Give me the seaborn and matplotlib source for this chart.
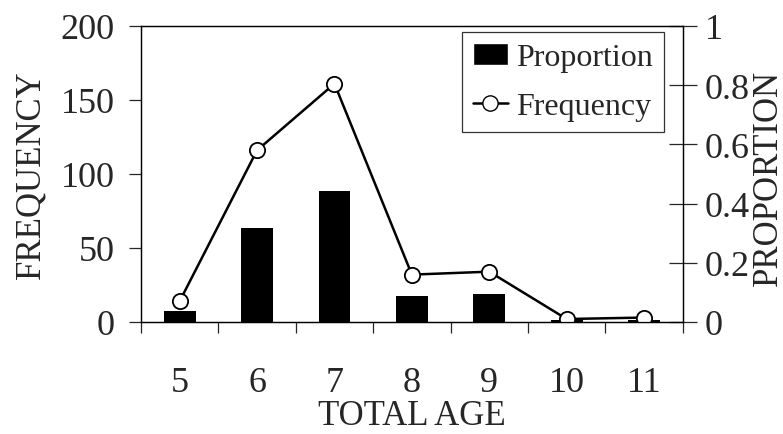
import numpy as np
import pandas as pd
import seaborn as sns
import matplotlib.pyplot as plt
from matplotlib.patches import Patch
from matplotlib.lines import Line2D
from matplotlib.ticker import FixedLocator

# valeurs
ages = ['5', '6', '7', '8', '9', '10', '11']
frequency = [14, 116, 161, 32, 34, 2, 3]
proportion = [0.037, 0.318, 0.443, 0.088, 0.095, 0.006, 0.008]

df = pd.DataFrame({"age": ages, "frequency": frequency, "proportion": proportion})

sns.set_style("ticks")
plt.rcParams['font.family'] = ['Liberation Serif', 'DejaVu Serif']

fig = plt.figure(figsize=(7.83, 4.35), dpi=100)
ax = fig.add_axes([0.180, 0.2575, 0.692, 0.6805])
ax2 = ax.twinx()

#* barres = proportion (axe de droite)
sns.barplot(data=df, x="age", y="proportion", ax=ax2, color="black",
            width=0.41, saturation=1, edgecolor="none")

#* ligne = frequence (axe de gauche)
sns.pointplot(data=df, x="age", y="frequency", ax=ax, color="black",
              errorbar=None, markers="o", markersize=11, linewidth=1.8)
for line in ax.lines:
    line.set_markerfacecolor("white")
    line.set_markeredgecolor("black")
    line.set_markeredgewidth(1.3)

# ligne au-dessus des barres
ax.set_zorder(ax2.get_zorder() + 1)
ax.patch.set_visible(False)

ax.set_xlim(-0.5, 6.5)
ax.set_ylim(0, 200)
ax2.set_ylim(0, 1)
ax.set_yticks([0, 50, 100, 150, 200])
ax2.set_yticks([0, 0.2, 0.4, 0.6, 0.8, 1])
ax2.set_yticklabels(['0', '0.2', '0.4', '0.6', '0.8', '1'])

# graduations x entre les categories
ax.xaxis.set_minor_locator(FixedLocator(np.arange(-0.5, 7, 1)))
ax.tick_params(axis='x', which='major', length=0, pad=32, labelsize=26)
ax.tick_params(axis='x', which='minor', length=8, width=0.9, direction='out')
ax2.tick_params(axis='x', which='both', length=0)
ax.tick_params(axis='y', length=9, width=0.9, direction='out', pad=10, labelsize=26)
ax2.tick_params(axis='y', length=20, width=0.9, direction='inout', pad=6, labelsize=26)

ax.set_xlabel("TOTAL AGE", fontsize=25, labelpad=0)
ax.set_ylabel("FREQUENCY", fontsize=25)
ax2.set_ylabel("PROPORTION", fontsize=25)
ax.yaxis.set_label_coords(-0.172, 0.5)
ax2.yaxis.set_label_coords(1.128, 0.49)

for a in (ax, ax2):
    for s in a.spines.values():
        s.set_linewidth(0.9)
        s.set_color("black")

handles = [Patch(facecolor="black", label="Proportion"),
           Line2D([], [], color="black", marker="o", markerfacecolor="white",
                  markersize=11, linewidth=1.8, label="Frequency")]
leg = ax.legend(handles=handles, loc="upper right", bbox_to_anchor=(0.965, 0.98),
                fontsize=23, frameon=True, fancybox=False, handlelength=1.1,
                handletextpad=0.25, borderpad=0.35, labelspacing=0.6, borderaxespad=0)
leg.get_frame().set_edgecolor("black")
leg.get_frame().set_linewidth(0.9)

fig.savefig("out.png", dpi=100)
